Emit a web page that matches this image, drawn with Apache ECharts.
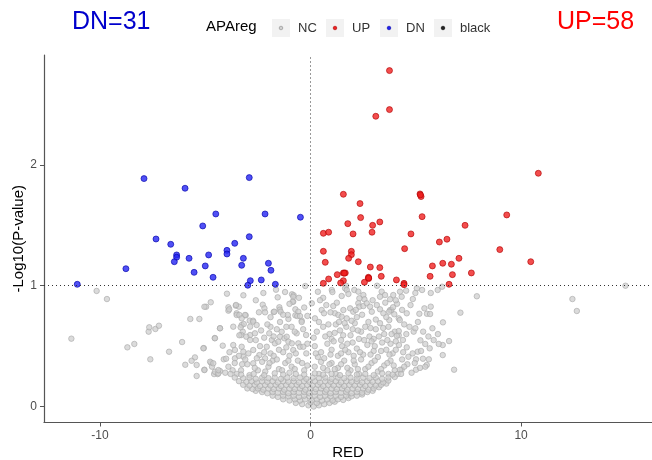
<!DOCTYPE html>
<html><head><meta charset="utf-8">
<script src="https://cdn.jsdelivr.net/npm/echarts@6/dist/echarts.min.js"></script>
<style>html,body{margin:0;padding:0;background:#fff}#c{width:652px;height:460px}</style>
</head><body><div id="c"></div>
<script>
// Axis ticks
const xTicks = [-10, 0, 10];
const yTicks = [0, 1, 2];
const legendLabels = ['NC', 'UP', 'DN', 'black'];
const dnCount = 31, upCount = 58;

// DN (blue) points [RED, -log10 P]
const dnPoints = [[-7.91,1.887],[-5.96,1.807],[-2.91,1.895],[-4.50,1.594],[-2.16,1.594],[-0.48,1.567],[-5.12,1.495],[-7.34,1.387],[-6.64,1.343],[-2.91,1.406],[-3.60,1.351],[-3.97,1.293],[-3.97,1.263],[-6.36,1.255],[-6.36,1.236],[-5.77,1.227],[-4.84,1.255],[-6.47,1.199],[-3.19,1.227],[-3.27,1.169],[-5.00,1.164],[-2.00,1.186],[-1.88,1.128],[-8.77,1.141],[-5.53,1.111],[-4.63,1.070],[-2.86,1.042],[-2.34,1.048],[-2.98,1.004],[-1.67,1.012],[-11.08,1.012]];

// UP (red) points
const upPoints = [[3.75,2.781],[3.75,2.458],[3.10,2.403],[10.82,1.931],[1.56,1.757],[5.20,1.760],[5.25,1.738],[2.35,1.680],[2.38,1.564],[5.30,1.572],[9.32,1.586],[1.77,1.514],[2.95,1.500],[3.29,1.528],[7.34,1.500],[0.61,1.434],[0.86,1.443],[2.02,1.429],[2.92,1.443],[4.77,1.429],[6.12,1.362],[6.48,1.385],[8.99,1.299],[0.61,1.285],[1.94,1.285],[1.94,1.257],[1.81,1.227],[4.47,1.307],[0.70,1.194],[2.27,1.199],[7.05,1.227],[10.46,1.199],[6.28,1.186],[6.69,1.178],[5.79,1.164],[2.84,1.155],[3.29,1.150],[1.27,1.092],[1.56,1.106],[1.65,1.106],[3.36,1.078],[5.68,1.078],[6.74,1.092],[7.64,1.106],[2.75,1.070],[2.76,1.059],[0.86,1.056],[1.56,1.042],[4.08,1.048],[2.56,1.029],[1.43,1.023],[0.61,1.020],[4.44,1.020],[6.58,1.012],[4.44,1.009],[5.22,1.752],[1.60,1.104],[2.76,1.064]];

// NC (grey) points
const ncPoints = [
[-11.36,0.562],[-10.16,0.957],[-9.67,0.890],[-8.70,0.490],[-8.37,0.518],[-7.61,0.391],[-7.69,0.620],[-7.66,0.656],[-7.37,0.642],[-7.20,0.669],[-6.72,0.454],[-6.10,0.534],[-5.95,0.346],[-5.71,0.725],[-5.28,0.725],[-5.49,0.407],[-5.41,0.344],[-5.41,0.253],[-5.65,0.379],[-5.07,0.484],[-5.04,0.305],[-4.96,0.826],[-5.04,0.826],[-4.74,0.863],[-4.73,0.363],[-4.68,0.330],[-4.55,0.567],[-4.58,0.269],[-4.41,0.269],[-4.30,0.294],[-4.30,0.648],[-4.17,0.504],[-4.12,0.391],[-4.01,0.396],[-3.97,0.934],[-3.90,0.822],[-3.90,0.794],[-3.55,0.835],[-3.40,0.827],[-3.19,0.921],[-2.24,0.940],[-1.64,0.967],[-1.21,0.948],[-0.88,0.929],[-0.80,0.921],[-0.25,0.998],[-1.56,0.904],[-0.82,0.909],
[-2.27,0.843],[-2.19,0.813],[-2.16,0.780],[-1.75,0.783],[-1.48,0.822],[-1.46,0.802],[-0.82,0.868],[-0.72,0.805],[-0.58,0.785],[-0.72,0.755],[-1.05,0.725],[-0.42,0.711],[-3.51,0.772],[-3.51,0.758],[-3.08,0.755],[-2.89,0.711],[-2.73,0.711],[-0.63,0.749],[-0.50,0.749],[-1.08,0.758],[-3.86,0.805],[-3.54,0.841],[-3.38,0.758],[-3.11,0.758],[-3.27,0.730],[-1.72,0.785],[-1.42,0.785],[-0.85,0.868],
[-4.30,0.648],[-4.54,0.565],[-3.67,0.661],[-3.22,0.620],[-3.29,0.592],[-2.87,0.592],[-3.05,0.578],[-3.38,0.590],[-2.72,0.702],[-2.87,0.661],[-3.27,0.675],[-2.64,0.606],[-1.96,0.606],[-1.45,0.578],[-1.37,0.619],[-1.24,0.565],[-1.13,0.578],[-0.66,0.606],[-0.21,0.592],[-2.56,0.675],[-3.17,0.683],[-3.32,0.656],[-0.42,0.700],[-1.90,0.660],[-1.60,0.640],[-0.90,0.660],[-2.20,0.570],
[-5.09,0.482],[-3.67,0.509],[-3.59,0.468],[-3.27,0.495],[-3.19,0.454],[-3.19,0.413],[-2.87,0.551],[-2.72,0.468],[-2.43,0.426],[-2.08,0.495],[-1.84,0.551],[-1.69,0.523],[-1.53,0.537],[-1.05,0.537],[-0.89,0.523],[-0.82,0.468],[-0.58,0.523],[-0.50,0.495],[-0.34,0.495],[-3.59,0.399],[-2.16,0.399],[-1.30,0.450],[-1.00,0.420],[-0.20,0.440],[-1.90,0.440],[-2.40,0.500],
[-5.04,0.302],[-4.77,0.371],[-4.62,0.358],[-4.54,0.288],[-4.38,0.275],[-4.38,0.302],[-2.72,0.358],[-3.90,0.330],[-3.60,0.360],[-3.30,0.300],[-3.00,0.350],[-2.50,0.300],[-2.30,0.370],[-2.00,0.330],[-1.80,0.380],[-1.50,0.310],[-1.20,0.360],[-0.90,0.330],[-0.60,0.380],[-0.30,0.300],[-3.50,0.270],[-2.90,0.260],[-1.00,0.280],[-3.10,0.390],[-1.60,0.390],[-0.40,0.360],
[-0.30,0.82],[-0.55,0.90],[-1.00,0.85],[-1.30,0.76],[-1.90,0.74],[-2.45,0.78],[-2.60,0.88],[-0.15,0.75],[-0.35,0.64],[-0.75,0.62],[-1.15,0.66],[-1.45,0.70],[-1.75,0.58],[-2.05,0.68],[-2.35,0.63],[-2.60,0.55],[-0.15,0.52],[-0.70,0.44],[-1.15,0.49],[-1.50,0.47],[-1.75,0.42],[-2.20,0.45],[-2.55,0.40],[-2.95,0.44],[-3.40,0.42],[-3.85,0.45],[-0.15,0.34],[-0.75,0.31],[-1.05,0.38],[-1.35,0.30],[-1.95,0.36],[-2.15,0.29],[-2.65,0.32],[-3.25,0.35],[-3.70,0.30],[-4.05,0.28],
[1.69,1.000],[1.01,0.965],[1.04,0.948],[1.64,0.979],[1.72,0.965],[2.08,0.965],[2.27,0.951],[2.51,0.923],[2.56,0.888],[2.32,0.896],[1.48,0.915],[1.80,0.932],[3.38,0.951],[3.54,0.923],[3.30,0.909],[3.78,0.888],[3.93,0.923],[4.25,0.951],[4.54,0.959],[4.33,0.909],[5.05,0.979],[5.30,0.965],[4.98,0.940],[4.86,0.890],[5.71,0.940],[6.04,0.965],[6.25,0.992],[7.90,0.913],[14.96,1.000],[12.44,0.890],[3.16,1.000],[0.35,0.950],[0.60,0.900],
[1.08,0.832],[1.16,0.772],[1.32,0.758],[1.48,0.744],[1.72,0.730],[1.56,0.799],[1.88,0.813],[2.03,0.785],[2.27,0.855],[2.32,0.827],[2.51,0.832],[2.67,0.855],[2.83,0.827],[2.91,0.785],[3.30,0.805],[3.46,0.772],[3.78,0.799],[3.98,0.764],[3.74,0.716],[4.19,0.730],[4.24,0.716],[4.57,0.772],[5.17,0.768],[5.41,0.813],[5.53,0.768],[5.68,0.766],[5.71,0.827],[7.12,0.777],[12.65,0.791],[0.53,0.799],[0.64,0.772],[0.21,0.730],[0.06,0.855],[3.84,0.799],[3.92,0.822],[4.11,0.851],[3.73,0.785],[2.20,0.740],[3.10,0.720],
[0.30,0.620],[0.60,0.660],[0.90,0.600],[1.20,0.680],[1.40,0.630],[1.70,0.660],[1.90,0.590],[2.10,0.690],[2.40,0.620],[2.60,0.660],[2.80,0.580],[3.10,0.640],[3.30,0.690],[3.50,0.600],[3.70,0.660],[4.00,0.620],[4.19,0.590],[4.10,0.586],[4.19,0.625],[4.39,0.551],[4.90,0.620],[4.98,0.648],[5.79,0.648],[6.29,0.697],[0.15,0.570],[1.00,0.560],[2.30,0.560],[3.00,0.560],[2.00,0.640],[1.55,0.590],
[0.20,0.500],[0.50,0.450],[0.80,0.520],[1.00,0.470],[1.30,0.420],[1.50,0.500],[1.80,0.450],[2.00,0.530],[2.20,0.480],[2.50,0.430],[2.70,0.510],[3.00,0.460],[3.20,0.410],[3.40,0.530],[3.60,0.470],[3.90,0.440],[4.20,0.510],[4.57,0.490],[4.65,0.412],[5.22,0.548],[5.45,0.518],[5.66,0.482],[5.09,0.454],[6.58,0.542],[6.28,0.426],[6.28,0.509],[6.09,0.518],[1.10,0.540],[2.90,0.540],[0.35,0.410],[4.40,0.450],[3.80,0.520],
[0.20,0.330],[0.50,0.370],[0.80,0.300],[1.00,0.360],[1.30,0.320],[1.60,0.380],[1.90,0.300],[2.10,0.350],[2.40,0.390],[2.60,0.310],[2.90,0.360],[3.20,0.290],[3.50,0.340],[3.80,0.380],[4.00,0.300],[4.33,0.305],[4.14,0.269],[4.25,0.305],[5.01,0.305],[5.01,0.391],[5.34,0.396],[5.62,0.391],[5.52,0.344],[5.45,0.330],[6.82,0.305],[4.60,0.350],[4.80,0.280],[3.70,0.270],[0.40,0.270],[1.20,0.270],[2.30,0.270],
[0.45,0.88],[0.75,0.84],[0.95,0.78],[1.25,0.86],[1.35,0.70],[1.62,0.69],[1.95,0.71],[2.15,0.80],[2.45,0.76],[2.75,0.70],[2.95,0.88],[3.15,0.84],[3.55,0.86],[3.60,0.74],[4.05,0.88],[4.35,0.80],[4.45,0.68],[4.75,0.84],[4.70,0.66],[5.10,0.70],[5.35,0.62],[5.60,0.58],[5.85,0.55],[6.05,0.60],[0.40,0.70],[0.70,0.58],[0.85,0.68],[1.15,0.61],[1.45,0.55],[1.75,0.52],[2.25,0.63],[2.55,0.55],[2.85,0.65],[3.25,0.58],[3.45,0.65],[3.65,0.55],[3.85,0.60],[4.05,0.54],[4.55,0.60],
[0.25,0.44],[0.65,0.40],[0.95,0.43],[1.45,0.44],[1.65,0.47],[2.05,0.42],[2.35,0.45],[2.85,0.43],[3.05,0.50],[3.35,0.46],[3.75,0.43],[4.05,0.47],[4.35,0.39],[4.85,0.44],[5.25,0.46],[0.60,0.32],[0.90,0.35],[1.15,0.31],[1.45,0.35],[1.75,0.32],[2.05,0.38],[2.25,0.31],[2.75,0.33],[3.05,0.38],[3.35,0.31],[3.65,0.36],[3.95,0.34],[4.45,0.33],[4.95,0.36],[5.20,0.32],
[-0.40,0.020],[-0.10,0.010],[0.15,0.000],[0.40,0.010],[0.65,0.020],[0.90,0.030],[-0.70,0.030],[0.30,0.030],[0.00,0.035],[1.15,0.040],
[-1.30,0.060],[-1.00,0.050],[-0.75,0.060],[-0.50,0.050],[-0.25,0.060],[0.05,0.050],[0.30,0.060],[0.55,0.050],[0.80,0.060],[1.05,0.050],[1.30,0.060],[1.55,0.055],[1.80,0.070],
[-1.80,0.090],[-1.55,0.080],[-1.30,0.090],[-1.05,0.085],[-0.80,0.090],[-0.55,0.080],[-0.30,0.090],[-0.05,0.085],[0.20,0.090],[0.45,0.080],[0.70,0.090],[0.95,0.085],[1.20,0.090],[1.45,0.080],[1.70,0.090],[1.95,0.085],[2.20,0.090],[2.45,0.100],
[-2.30,0.120],[-2.05,0.110],[-1.80,0.120],[-1.55,0.115],[-1.30,0.120],[-1.05,0.110],[-0.80,0.120],[-0.55,0.115],[-0.30,0.120],[-0.05,0.110],[0.20,0.120],[0.45,0.115],[0.70,0.120],[0.95,0.110],[1.20,0.120],[1.45,0.115],[1.70,0.120],[1.95,0.110],[2.20,0.120],[2.45,0.115],[2.70,0.120],[-2.60,0.130],[2.95,0.130],
[-3.00,0.150],[-2.75,0.145],[-2.50,0.150],[-2.25,0.140],[-2.00,0.150],[-1.75,0.145],[-1.50,0.150],[-1.25,0.140],[-1.00,0.150],[-0.75,0.145],[-0.50,0.150],[-0.25,0.140],[0.00,0.150],[0.25,0.145],[0.50,0.150],[0.75,0.140],[1.00,0.150],[1.25,0.145],[1.50,0.150],[1.75,0.140],[2.00,0.150],[2.25,0.145],[2.50,0.150],[2.75,0.140],[3.00,0.150],[3.25,0.160],
[-3.20,0.180],[-2.90,0.175],[-2.65,0.180],[-2.40,0.170],[-2.15,0.180],[-1.90,0.175],[-1.65,0.180],[-1.40,0.170],[-1.15,0.180],[-0.90,0.175],[-0.65,0.180],[-0.40,0.170],[-0.15,0.180],[0.10,0.175],[0.35,0.180],[0.60,0.170],[0.85,0.180],[1.10,0.175],[1.35,0.180],[1.60,0.170],[1.85,0.180],[2.10,0.175],[2.35,0.180],[2.60,0.170],[2.85,0.180],[3.10,0.175],[3.35,0.180],[3.60,0.190],
[-3.40,0.210],[-3.05,0.205],[-2.80,0.210],[-2.55,0.200],[-2.30,0.210],[-2.05,0.205],[-1.80,0.210],[-1.55,0.200],[-1.30,0.210],[-1.05,0.205],[-0.80,0.210],[-0.55,0.200],[-0.30,0.210],[-0.05,0.205],[0.20,0.210],[0.45,0.200],[0.70,0.210],[0.95,0.205],[1.20,0.210],[1.45,0.200],[1.70,0.210],[1.95,0.205],[2.20,0.210],[2.45,0.200],[2.70,0.210],[2.95,0.205],[3.20,0.210],[3.45,0.200],[3.70,0.215],
[-3.60,0.240],[-3.20,0.235],[-2.90,0.240],[-2.60,0.230],[-2.30,0.240],[-2.00,0.235],[-1.70,0.240],[-1.40,0.230],[-1.10,0.240],[-0.80,0.235],[-0.50,0.240],[-0.20,0.230],[0.10,0.240],[0.40,0.235],[0.70,0.240],[1.00,0.230],[1.30,0.240],[1.60,0.235],[1.90,0.240],[2.20,0.230],[2.50,0.240],[2.80,0.235],[3.10,0.240],[3.40,0.230],[3.70,0.240],[4.00,0.245],
[-3.80,0.270],[-3.30,0.265],[-2.70,0.270],[-2.20,0.260],[-1.70,0.275],[-1.30,0.265],[-0.70,0.270],[-0.30,0.265],[0.20,0.275],[0.60,0.265],[1.00,0.270],[1.40,0.260],[1.80,0.275],[2.20,0.265],[2.60,0.270],[3.00,0.260],[3.40,0.275],[3.90,0.265],[4.30,0.270]
];

const FONT = 'Liberation Sans, Arial, sans-serif';
const chart = echarts.init(document.getElementById('c'), null, {renderer: 'canvas'});

const legendG = [];
const keyX = [272, 326, 380, 434];
const labX = [298, 352, 406, 460];
const dotFill = ['#d0d0d0', '#f02020', '#2020f0', '#222'];
const dotStroke = ['#888', '#a00', '#00a', '#000'];
legendLabels.forEach((lab, i) => {
  legendG.push({type: 'rect', shape: {x: keyX[i], y: 19, width: 18, height: 18}, style: {fill: '#f2f2f2'}});
  legendG.push({type: 'circle', shape: {cx: keyX[i] + 9, cy: 28, r: 1.8}, style: {fill: dotFill[i], stroke: dotStroke[i], lineWidth: 0.6}});
  legendG.push({type: 'text', x: labX[i], y: 28, style: {text: lab, fill: '#333', font: '13px ' + FONT, textVerticalAlign: 'middle', verticalAlign: 'middle'}});
});
legendG.push({type: 'text', x: 206, y: 27, style: {text: 'APAreg', fill: '#000', font: '15px ' + FONT, textVerticalAlign: 'middle', verticalAlign: 'middle'}});
legendG.push({type: 'text', x: 72, y: 22, style: {text: 'DN=' + dnCount, fill: '#0000cc', font: '25px ' + FONT, textVerticalAlign: 'middle', verticalAlign: 'middle'}});
legendG.push({type: 'text', x: 557, y: 22, style: {text: 'UP=' + upCount, fill: '#ff0000', font: '25px ' + FONT, textVerticalAlign: 'middle', verticalAlign: 'middle'}});

chart.setOption({
  animation: false,
  backgroundColor: '#fff',
  textStyle: {fontFamily: FONT},
  grid: {left: 44, right: 0, top: 55, bottom: 37.5, containLabel: false, outerBoundsMode: 'none'},
  xAxis: {
    type: 'value', min: -12.66, max: 16.22,
    name: 'RED', nameLocation: 'middle', nameGap: 23, nameMoveOverlap: false,
    nameTextStyle: {fontSize: 15, color: '#000', fontFamily: FONT},
    axisLine: {show: true, onZero: false, lineStyle: {color: '#555', width: 1.2}},
    axisTick: {show: true, length: 4, lineStyle: {color: '#555'}, customValues: xTicks},
    axisLabel: {customValues: xTicks, color: '#4d4d4d', fontSize: 12, margin: 7, fontFamily: FONT},
    splitLine: {show: false}
  },
  yAxis: {
    type: 'value', min: -0.132, max: 2.91,
    name: '-Log10(P-value)', nameLocation: 'middle', nameGap: 18, nameRotate: 90, nameMoveOverlap: false,
    nameTextStyle: {fontSize: 15, color: '#000', fontFamily: FONT},
    axisLine: {show: true, onZero: false, lineStyle: {color: '#555', width: 1.2}},
    axisTick: {show: true, length: 4, lineStyle: {color: '#555'}, customValues: yTicks},
    axisLabel: {customValues: yTicks, color: '#4d4d4d', fontSize: 12, margin: 7, fontFamily: FONT},
    splitLine: {show: false}
  },
  graphic: legendG,
  series: [
    {name: 'NC', type: 'scatter', data: ncPoints, symbolSize: 5.5, z: 2,
     itemStyle: {color: 'rgba(205,205,205,0.9)', borderColor: '#a8a8a8', borderWidth: 0.8}},
    {name: 'UP', type: 'scatter', data: upPoints, symbolSize: 6, z: 3,
     itemStyle: {color: '#f02020', borderColor: '#b00000', borderWidth: 0.8}},
    {name: 'DN', type: 'scatter', data: dnPoints, symbolSize: 6, z: 3,
     itemStyle: {color: '#2424f2', borderColor: '#0000a8', borderWidth: 0.8}},
    {name: 'guides', type: 'scatter', data: [], z: 4,
     markLine: {silent: true, symbol: 'none', label: {show: false}, animation: false,
       lineStyle: {color: '#333', type: [1, 3], width: 1},
       data: [{xAxis: 0}, {yAxis: 1}]}}
  ]
});
</script></body></html>
